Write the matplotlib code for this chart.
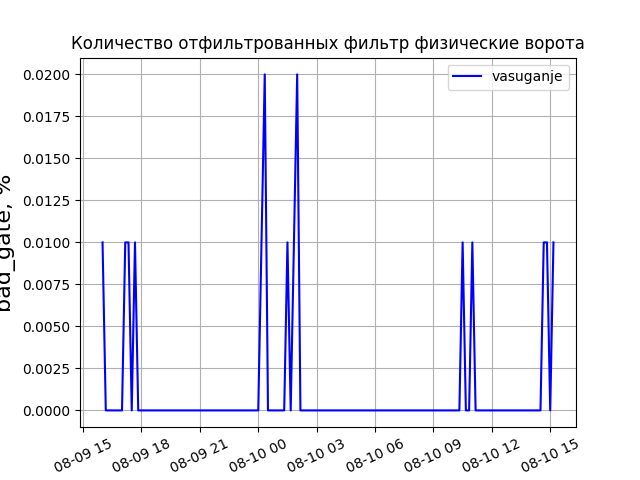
import pandas as pd
import matplotlib
matplotlib.use('Agg')
import matplotlib.pyplot as plt
import matplotlib.dates as mdates

# Vertices of the series (10-minute samples, flat stretches only need their ends)
times = [
    "2023-08-09 16:00", "2023-08-09 16:10", "2023-08-09 17:00", "2023-08-09 17:10",
    "2023-08-09 17:20", "2023-08-09 17:30", "2023-08-09 17:40", "2023-08-09 17:50",
    "2023-08-10 00:00", "2023-08-10 00:20", "2023-08-10 00:30", "2023-08-10 01:20",
    "2023-08-10 01:30", "2023-08-10 01:40", "2023-08-10 02:00", "2023-08-10 02:10",
    "2023-08-10 10:20", "2023-08-10 10:30", "2023-08-10 10:40", "2023-08-10 10:50",
    "2023-08-10 11:00", "2023-08-10 11:10", "2023-08-10 14:30", "2023-08-10 14:40",
    "2023-08-10 14:50", "2023-08-10 15:00", "2023-08-10 15:10",
]
bad_gate = [
    0.01, 0.0, 0.0, 0.01,
    0.01, 0.0, 0.01, 0.0,
    0.0, 0.02, 0.0, 0.0,
    0.01, 0.0, 0.02, 0.0,
    0.0, 0.01, 0.0, 0.0,
    0.01, 0.0, 0.0, 0.01,
    0.01, 0.0, 0.01,
]

series_name = "vasuganje"
title = "Количество отфильтрованных фильтр физические ворота"

x = pd.to_datetime(times)

fig, ax = plt.subplots(figsize=(6.4, 4.8), dpi=100)
ax.plot(x, bad_gate, color='blue', label=series_name)
ax.set_title(title)
ax.set_ylabel("bad_gate, %", fontsize=16)
ax.xaxis.set_major_locator(mdates.HourLocator(byhour=range(0, 24, 3)))
ax.xaxis.set_major_formatter(mdates.DateFormatter('%m-%d %H'))
plt.xticks(rotation=25)
ax.grid(True)
ax.legend(loc='upper right')

plt.savefig("out.png")
